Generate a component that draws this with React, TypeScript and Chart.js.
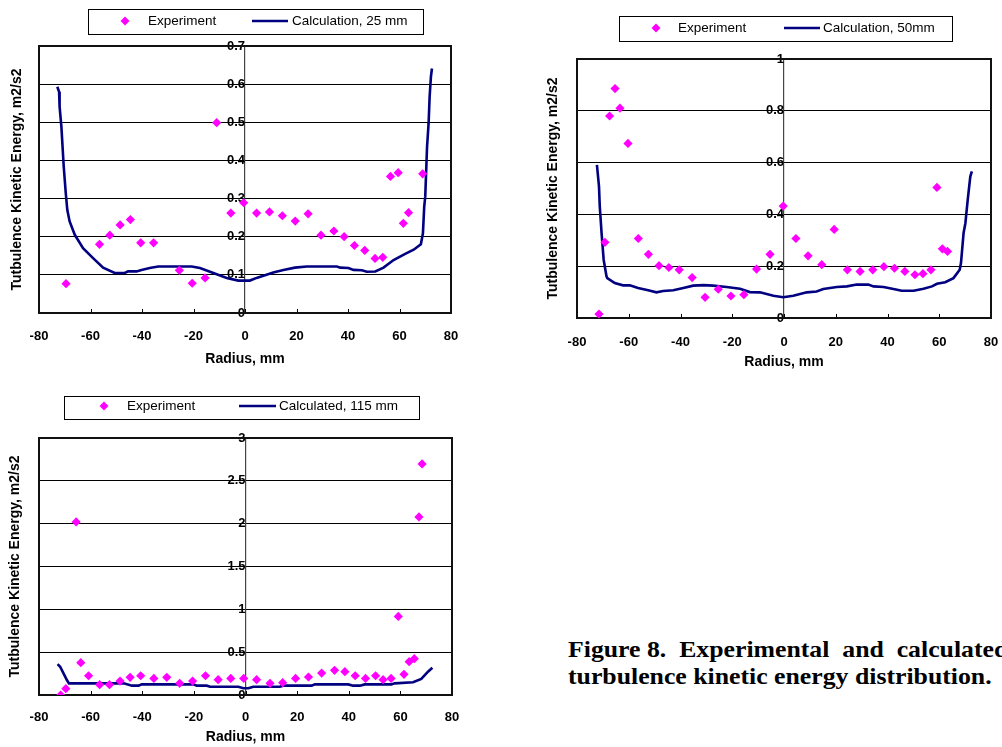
import React, { useEffect, useRef } from "react";
import { Chart, registerables } from "chart.js";

Chart.register(...registerables);

// ---------- data ----------
const xTicks = [-80, -60, -40, -20, 0, 20, 40, 60, 80];

const yTicks25 = [0, 0.1, 0.2, 0.3, 0.4, 0.5, 0.6, 0.7];
const yTicks50 = [0, 0.2, 0.4, 0.6, 0.8, 1];
const yTicks115 = [0, 0.5, 1, 1.5, 2, 2.5, 3];

// 25 mm
const exp25R = [-69.5, -56.5, -52.5, -48.5, -44.5, -40.5, -35.5, -25.5, -20.5, -15.5, -11, -5.5, -0.5, 4.5, 9.5, 14.5, 19.5, 24.5, 29.5, 34.5, 38.5, 42.5, 46.5, 50.5, 53.5, 56.5, 59.5, 61.5, 63.5, 69];
const exp25K = [0.077, 0.18, 0.204, 0.231, 0.245, 0.184, 0.184, 0.112, 0.078, 0.092, 0.499, 0.262, 0.289, 0.262, 0.265, 0.255, 0.241, 0.26, 0.204, 0.215, 0.2, 0.177, 0.164, 0.143, 0.146, 0.358, 0.368, 0.235, 0.263, 0.365];
const calc25R = [-72.9, -72.2, -72.0, -71.3, -70.4, -69.6, -69.0, -68.1, -66.1, -62.9, -59.0, -55.1, -50.6, -46.7, -45.4, -42.1, -40.2, -37.0, -33.7, -29.2, -20.7, -17.5, -12.3, -7.1, -2.6, 1.9, 4.5, 11.0, 14.9, 19.4, 24.0, 35.7, 37.0, 40.2, 42.1, 45.4, 47.3, 50.6, 53.8, 57.7, 62.2, 65.5, 68.3, 69.1, 69.6, 70.0, 70.7, 71.3, 71.7, 72.2, 72.6];
const calc25K = [0.593, 0.58, 0.541, 0.488, 0.384, 0.314, 0.27, 0.24, 0.205, 0.17, 0.144, 0.119, 0.105, 0.105, 0.109, 0.109, 0.113, 0.118, 0.122, 0.122, 0.122, 0.118, 0.105, 0.092, 0.085, 0.085, 0.092, 0.106, 0.113, 0.119, 0.122, 0.122, 0.119, 0.118, 0.113, 0.112, 0.108, 0.109, 0.119, 0.139, 0.155, 0.166, 0.18, 0.209, 0.279, 0.305, 0.436, 0.497, 0.567, 0.619, 0.641];

// 50 mm
const exp50R = [-71.5, -69.2, -67.4, -65.3, -63.4, -60.3, -56.3, -52.4, -48.3, -44.5, -40.5, -35.5, -30.5, -25.4, -20.5, -15.5, -10.6, -5.4, -0.3, 4.6, 9.3, 14.6, 19.4, 24.5, 29.4, 34.3, 38.6, 42.7, 46.7, 50.6, 53.7, 56.8, 59.1, 61.2, 63.2];
const exp50K = [0.015, 0.292, 0.78, 0.886, 0.81, 0.674, 0.307, 0.246, 0.202, 0.195, 0.186, 0.156, 0.08, 0.111, 0.085, 0.09, 0.189, 0.246, 0.432, 0.307, 0.24, 0.206, 0.342, 0.186, 0.18, 0.186, 0.198, 0.192, 0.18, 0.167, 0.171, 0.186, 0.504, 0.267, 0.257];
const calc50R = [-72.3, -71.5, -71.2, -70.5, -69.7, -68.6, -68.3, -65.4, -62.2, -59.6, -56.4, -52.5, -49.3, -46.7, -42.8, -38.9, -35.1, -31.2, -27.4, -22.2, -17.0, -13.2, -9.3, -4.1, -0.3, 3.6, 8.8, 12.6, 15.2, 20.4, 24.3, 28.1, 32.6, 34.6, 38.5, 42.3, 45.5, 50.1, 53.9, 57.2, 59.1, 62.3, 65.5, 67.9, 68.4, 69.4, 70.1, 71.0, 72.0, 72.6];
const calc50K = [0.591, 0.508, 0.431, 0.328, 0.225, 0.161, 0.154, 0.135, 0.126, 0.126, 0.116, 0.107, 0.099, 0.104, 0.107, 0.116, 0.125, 0.127, 0.125, 0.12, 0.113, 0.1, 0.099, 0.086, 0.08, 0.086, 0.099, 0.102, 0.112, 0.12, 0.122, 0.129, 0.129, 0.122, 0.12, 0.112, 0.105, 0.105, 0.113, 0.122, 0.132, 0.138, 0.154, 0.186, 0.212, 0.328, 0.366, 0.456, 0.546, 0.566];

// 115 mm
const exp115R = [-71.6, -69.6, -65.6, -63.8, -60.8, -56.5, -52.7, -48.6, -44.7, -40.6, -35.5, -30.5, -25.5, -20.5, -15.5, -10.6, -5.7, -0.7, 4.3, 9.5, 14.4, 19.4, 24.4, 29.5, 34.5, 38.5, 42.5, 46.5, 50.4, 53.3, 56.4, 59.2, 61.4, 63.4, 65.4, 67.2, 68.4];
const exp115K = [0.0, 0.074, 2.02, 0.377, 0.225, 0.12, 0.12, 0.163, 0.206, 0.225, 0.194, 0.206, 0.136, 0.163, 0.225, 0.179, 0.194, 0.194, 0.179, 0.136, 0.144, 0.194, 0.21, 0.256, 0.288, 0.272, 0.225, 0.194, 0.225, 0.179, 0.194, 0.917, 0.241, 0.389, 0.424, 2.079, 2.697];
const calc115R = [-72.8, -71.8, -70.5, -69.2, -68.4, -65.3, -47.2, -44.0, -41.4, -40.2, -20.2, -18.9, -15.0, -13.7, -2.8, -0.8, 1.1, 3.0, 13.3, 14.6, 25.6, 26.9, 39.8, 41.7, 44.3, 46.2, 56.5, 57.8, 64.9, 68.1, 70.7, 72.4];
const calc115K = [0.361, 0.33, 0.253, 0.175, 0.136, 0.136, 0.136, 0.109, 0.109, 0.124, 0.124, 0.109, 0.109, 0.097, 0.097, 0.078, 0.078, 0.097, 0.097, 0.109, 0.109, 0.124, 0.124, 0.109, 0.109, 0.124, 0.124, 0.136, 0.148, 0.187, 0.272, 0.319];

const expLabel = "Experiment";
const calcLabel25 = "Calculation, 25 mm";
const calcLabel50 = "Calculation, 50mm";
const calcLabel115 = "Calculated, 115 mm";
const xTitle = "Radius, mm";
const yTitle = "Tutbulence Kinetic Energy, m2/s2";

// ---------- styling ----------
const MAGENTA = "#FF00FF";
const NAVY = "#000080";
const FONT = "Arial, 'Liberation Sans', sans-serif";

type LegendLayout = {
  box: [number, number, number, number];
  cy: number;
  marker: number;
  text1: number;
  line: [number, number];
  text2: number;
};

type PanelProps = {
  left: number;
  top: number;
  width: number;
  height: number;
  expR: number[];
  expK: number[];
  calcR: number[];
  calcK: number[];
  yTicks: number[];
  calcLabel: string;
  padTop: number;
  padRight: number;
  yAxisWidth: number;
  xAxisHeight: number;
  yTitlePad: number;
  xTitlePad: number;
  xTickGap: number;
  legend: LegendLayout;
};

function Panel(p: PanelProps) {
  const ref = useRef<HTMLCanvasElement>(null);

  useEffect(() => {
    if (!ref.current) return;
    const yMin = p.yTicks[0];
    const yMax = p.yTicks[p.yTicks.length - 1];
    const tickFont = { family: FONT, size: 13, weight: "bold" as const };
    const titleFont = { family: FONT, size: 14, weight: "bold" as const };
    const setTicks = (arr: number[]) => (scale: any) => {
      scale.ticks = arr.map((v) => ({ value: v }));
    };
    const L = p.legend;

    const decor = {
      id: "decor",
      beforeDatasetsDraw(chart: any) {
        const { ctx, chartArea: a, scales } = chart;
        ctx.save();
        ctx.strokeStyle = "#000";
        ctx.lineWidth = 1;
        for (const v of xTicks) {
          const x = Math.round(scales.x.getPixelForValue(v)) + 0.5;
          ctx.beginPath();
          ctx.moveTo(x, a.bottom);
          ctx.lineTo(x, a.bottom - 4);
          ctx.stroke();
        }
        ctx.lineWidth = 2;
        ctx.strokeStyle = "#111";
        ctx.strokeRect(a.left, a.top, a.right - a.left, a.bottom - a.top);
        ctx.restore();
      },
      afterDraw(chart: any) {
        const { ctx } = chart;
        const ds = chart.data.datasets;
        const [bx, by, bx2, by2] = L.box;
        ctx.save();
        ctx.fillStyle = "#fff";
        ctx.fillRect(bx, by, bx2 - bx, by2 - by);
        ctx.strokeStyle = "#000";
        ctx.lineWidth = 1;
        ctx.strokeRect(bx + 0.5, by + 0.5, bx2 - bx, by2 - by);
        // marker
        const r = 4.5;
        ctx.fillStyle = MAGENTA;
        ctx.beginPath();
        ctx.moveTo(L.marker, L.cy - r);
        ctx.lineTo(L.marker + r, L.cy);
        ctx.lineTo(L.marker, L.cy + r);
        ctx.lineTo(L.marker - r, L.cy);
        ctx.closePath();
        ctx.fill();
        // line sample
        ctx.strokeStyle = NAVY;
        ctx.lineWidth = 2.6;
        ctx.beginPath();
        ctx.moveTo(L.line[0], L.cy);
        ctx.lineTo(L.line[1], L.cy);
        ctx.stroke();
        // texts
        ctx.fillStyle = "#000";
        ctx.font = `13.5px ${FONT}`;
        ctx.textBaseline = "middle";
        ctx.textAlign = "left";
        ctx.fillText(ds[0].label, L.text1, L.cy + 0.5);
        ctx.fillText(ds[1].label, L.text2, L.cy + 0.5);
        ctx.restore();
      },
    };

    const chart = new Chart(ref.current, {
      type: "scatter",
      data: {
        datasets: [
          {
            label: expLabel,
            data: p.expR.map((r, i) => ({ x: r, y: p.expK[i] })),
            backgroundColor: MAGENTA,
            borderColor: MAGENTA,
            pointStyle: "rectRot",
            pointRadius: 4.6,
            borderWidth: 0,
            showLine: false,
            order: 1,
          },
          {
            label: p.calcLabel,
            data: p.calcR.map((r, i) => ({ x: r, y: p.calcK[i] })),
            borderColor: NAVY,
            backgroundColor: NAVY,
            borderWidth: 2.6,
            pointRadius: 0,
            showLine: true,
            tension: 0,
            order: 2,
          },
        ],
      },
      options: {
        responsive: false,
        animation: false,
        layout: { padding: { top: p.padTop, right: p.padRight, left: 0, bottom: 0 } },
        plugins: { legend: { display: false }, tooltip: { enabled: false } },
        scales: {
          x: {
            type: "linear",
            min: -80,
            max: 80,
            afterBuildTicks: setTicks(xTicks),
            afterFit: (s: any) => {
              s.height = p.xAxisHeight;
            },
            ticks: {
              font: tickFont,
              color: "#000",
              padding: 0,
              maxRotation: 0,
              autoSkip: false,
              callback: (v: any) => String(v),
            },
            grid: {
              display: true,
              drawOnChartArea: false,
              drawTicks: true,
              tickLength: p.xTickGap,
              color: "rgba(0,0,0,0)",
            },
            border: { display: false },
            title: {
              display: true,
              text: xTitle,
              font: titleFont,
              color: "#000",
              padding: { top: 0, bottom: p.xTitlePad },
            },
          },
          y: {
            type: "linear",
            position: "left",
            min: yMin,
            max: yMax,
            afterBuildTicks: setTicks(p.yTicks),
            afterFit: (s: any) => {
              s.width = p.yAxisWidth;
            },
            ticks: { display: false },
            grid: { color: "#000", lineWidth: 1, drawTicks: false },
            border: { display: false },
            title: {
              display: true,
              text: yTitle,
              font: titleFont,
              color: "#000",
              padding: { top: p.yTitlePad, bottom: 0 },
            },
          },
          y2: {
            type: "linear",
            axis: "y",
            position: { x: 0 },
            min: yMin,
            max: yMax,
            z: 1,
            afterBuildTicks: setTicks(p.yTicks),
            ticks: {
              font: tickFont,
              color: "#000",
              padding: 7,
              callback: (v: any) => String(v),
            },
            grid: { drawOnChartArea: false, tickLength: 3, color: "#000" },
            border: { display: true, color: "#444", width: 1.2 },
          },
        },
      } as any,
      plugins: [decor],
    } as any);

    return () => chart.destroy();
  }, []);

  return (
    <canvas
      ref={ref}
      width={p.width}
      height={p.height}
      style={{ position: "absolute", left: p.left, top: p.top, width: p.width, height: p.height }}
    />
  );
}

const captionLine1 = "Figure 8.  Experimental  and  calculated";
const captionLine2 = "turbulence kinetic energy distribution.";

export default function App() {
  const captionStyle: React.CSSProperties = {
    position: "absolute",
    left: 568,
    fontFamily: "'Liberation Serif', 'Times New Roman', serif",
    fontWeight: "bold",
    fontSize: 23,
    lineHeight: "27px",
    whiteSpace: "pre",
    color: "#000",
    transformOrigin: "0 0",
  };
  return (
    <div
      style={{
        position: "fixed",
        left: 0,
        top: 0,
        width: 1002,
        height: 747,
        overflow: "hidden",
        background: "#fff",
      }}
    >
      <Panel
        left={0}
        top={0}
        width={470}
        height={370}
        expR={exp25R}
        expK={exp25K}
        calcR={calc25R}
        calcK={calc25K}
        yTicks={yTicks25}
        calcLabel={calcLabel25}
        padTop={46}
        padRight={19}
        yAxisWidth={39}
        xAxisHeight={57}
        yTitlePad={8.3}
        xTitlePad={2.6}
        xTickGap={16}
        legend={{ box: [88, 9, 423, 34], cy: 21, marker: 125, text1: 148, line: [252, 288], text2: 292 }}
      />
      <Panel
        left={540}
        top={0}
        width={462}
        height={375}
        expR={exp50R}
        expK={exp50K}
        calcR={calc50R}
        calcK={calc50K}
        yTicks={yTicks50}
        calcLabel={calcLabel50}
        padTop={59}
        padRight={11}
        yAxisWidth={37}
        xAxisHeight={57}
        yTitlePad={4.9}
        xTitlePad={4.2}
        xTickGap={16.5}
        legend={{ box: [79, 16, 412, 41], cy: 28, marker: 116, text1: 138, line: [244, 280], text2: 283 }}
      />
      <Panel
        left={0}
        top={385}
        width={470}
        height={362}
        expR={exp115R}
        expK={exp115K}
        calcR={calc115R}
        calcK={calc115K}
        yTicks={yTicks115}
        calcLabel={calcLabel115}
        padTop={53}
        padRight={18}
        yAxisWidth={39}
        xAxisHeight={52}
        yTitlePad={7.1}
        xTitlePad={1.9}
        xTickGap={15}
        legend={{ box: [64, 11, 419, 34], cy: 21, marker: 104, text1: 127, line: [239, 276], text2: 279 }}
      />
      <div style={{ ...captionStyle, top: 636, transform: "scaleX(1.12)" }}>{captionLine1}</div>
      <div style={{ ...captionStyle, top: 663, transform: "scaleX(1.12)" }}>{captionLine2}</div>
    </div>
  );
}
